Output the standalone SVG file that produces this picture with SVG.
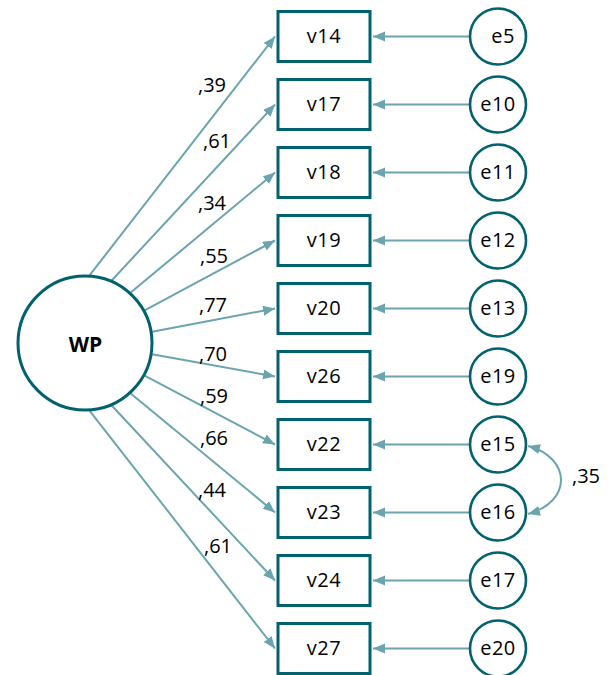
<svg xmlns="http://www.w3.org/2000/svg" width="608" height="675" viewBox="0 0 608 675">
<defs>
<style>
.box{fill:#fff;stroke:#00626e;stroke-width:3}
.circ{fill:#fff;stroke:#00626e;stroke-width:2.6}
.lat{fill:#fff;stroke:#00626e;stroke-width:3}
.arr{stroke:#6ba4af;stroke-width:2;fill:none}
text{font-family:"Open Sans","Liberation Sans",sans-serif;font-size:20px;fill:#000}
.c{text-anchor:middle;letter-spacing:0.5px}
.b{font-weight:bold;font-size:21px;letter-spacing:0}
</style>
<marker id="ah" markerUnits="userSpaceOnUse" markerWidth="13" markerHeight="11" refX="12" refY="5" orient="auto-start-reverse" viewBox="0 0 13 11">
<path d="M0,0 L12,5 L0,10 z" fill="#6ba4af"/>
</marker>
</defs>
<g id="connectors">
<line class="arr" x1="89.7" y1="275.2" x2="275" y2="36.5" marker-end="url(#ah)"/>
<line class="arr" x1="111.7" y1="280.5" x2="275" y2="104.5" marker-end="url(#ah)"/>
<line class="arr" x1="130.7" y1="292.6" x2="275" y2="172.5" marker-end="url(#ah)"/>
<line class="arr" x1="144.6" y1="310.3" x2="275" y2="240.5" marker-end="url(#ah)"/>
<line class="arr" x1="152.1" y1="331.7" x2="275" y2="308.5" marker-end="url(#ah)"/>
<line class="arr" x1="152.1" y1="354.3" x2="275" y2="376.5" marker-end="url(#ah)"/>
<line class="arr" x1="144.6" y1="375.7" x2="275" y2="444.5" marker-end="url(#ah)"/>
<line class="arr" x1="130.7" y1="393.4" x2="275" y2="512.5" marker-end="url(#ah)"/>
<line class="arr" x1="111.7" y1="405.5" x2="275" y2="580.5" marker-end="url(#ah)"/>
<line class="arr" x1="89.7" y1="410.8" x2="275" y2="648.5" marker-end="url(#ah)"/>
<line class="arr" x1="470" y1="36.5" x2="373" y2="36.5" marker-end="url(#ah)"/>
<line class="arr" x1="470" y1="104.5" x2="373" y2="104.5" marker-end="url(#ah)"/>
<line class="arr" x1="470" y1="172.5" x2="373" y2="172.5" marker-end="url(#ah)"/>
<line class="arr" x1="470" y1="240.5" x2="373" y2="240.5" marker-end="url(#ah)"/>
<line class="arr" x1="470" y1="308.5" x2="373" y2="308.5" marker-end="url(#ah)"/>
<line class="arr" x1="470" y1="376.5" x2="373" y2="376.5" marker-end="url(#ah)"/>
<line class="arr" x1="470" y1="444.5" x2="373" y2="444.5" marker-end="url(#ah)"/>
<line class="arr" x1="470" y1="512.5" x2="373" y2="512.5" marker-end="url(#ah)"/>
<line class="arr" x1="470" y1="580.5" x2="373" y2="580.5" marker-end="url(#ah)"/>
<line class="arr" x1="470" y1="648.5" x2="373" y2="648.5" marker-end="url(#ah)"/>
<path class="arr" d="M528,446 C572,458 572,502 528,514" marker-start="url(#ah)" marker-end="url(#ah)"/>
<text x="198" y="92">,39</text>
<text x="203" y="148">,61</text>
<text x="198" y="210">,34</text>
<text x="200" y="263">,55</text>
<text x="199" y="312">,77</text>
<text x="199" y="361">,70</text>
<text x="200" y="403">,59</text>
<text x="200" y="445">,66</text>
<text x="198" y="497">,44</text>
<text x="204" y="553">,61</text>
<text x="572" y="483">,35</text>
</g>
<g id="WP"><circle class="lat" cx="85" cy="343" r="67"/><text class="c b" x="85.5" y="352">WP</text></g>
<g id="v14"><rect class="box" x="278" y="11.5" width="92" height="50"/><text class="c" x="324" y="42.5">v14</text></g>
<g id="v17"><rect class="box" x="278" y="79.5" width="92" height="50"/><text class="c" x="324" y="110.5">v17</text></g>
<g id="v18"><rect class="box" x="278" y="147.5" width="92" height="50"/><text class="c" x="324" y="178.5">v18</text></g>
<g id="v19"><rect class="box" x="278" y="215.5" width="92" height="50"/><text class="c" x="324" y="246.5">v19</text></g>
<g id="v20"><rect class="box" x="278" y="283.5" width="92" height="50"/><text class="c" x="324" y="314.5">v20</text></g>
<g id="v26"><rect class="box" x="278" y="351.5" width="92" height="50"/><text class="c" x="324" y="382.5">v26</text></g>
<g id="v22"><rect class="box" x="278" y="419.5" width="92" height="50"/><text class="c" x="324" y="450.5">v22</text></g>
<g id="v23"><rect class="box" x="278" y="487.5" width="92" height="50"/><text class="c" x="324" y="518.5">v23</text></g>
<g id="v24"><rect class="box" x="278" y="555.5" width="92" height="50"/><text class="c" x="324" y="586.5">v24</text></g>
<g id="v27"><rect class="box" x="278" y="623.5" width="92" height="50"/><text class="c" x="324" y="654.5">v27</text></g>
<g id="e5"><circle class="circ" cx="498" cy="36.5" r="28"/><text class="c" x="503" y="42.5">e5</text></g>
<g id="e10"><circle class="circ" cx="498" cy="104.5" r="28"/><text class="c" x="498" y="110.5">e10</text></g>
<g id="e11"><circle class="circ" cx="498" cy="172.5" r="28"/><text class="c" x="498" y="178.5">e11</text></g>
<g id="e12"><circle class="circ" cx="498" cy="240.5" r="28"/><text class="c" x="498" y="246.5">e12</text></g>
<g id="e13"><circle class="circ" cx="498" cy="308.5" r="28"/><text class="c" x="498" y="314.5">e13</text></g>
<g id="e19"><circle class="circ" cx="498" cy="376.5" r="28"/><text class="c" x="498" y="382.5">e19</text></g>
<g id="e15"><circle class="circ" cx="498" cy="444.5" r="28"/><text class="c" x="498" y="450.5">e15</text></g>
<g id="e16"><circle class="circ" cx="498" cy="512.5" r="28"/><text class="c" x="498" y="518.5">e16</text></g>
<g id="e17"><circle class="circ" cx="498" cy="580.5" r="28"/><text class="c" x="498" y="586.5">e17</text></g>
<g id="e20"><circle class="circ" cx="498" cy="648.5" r="28"/><text class="c" x="498" y="654.5">e20</text></g>
</svg>
